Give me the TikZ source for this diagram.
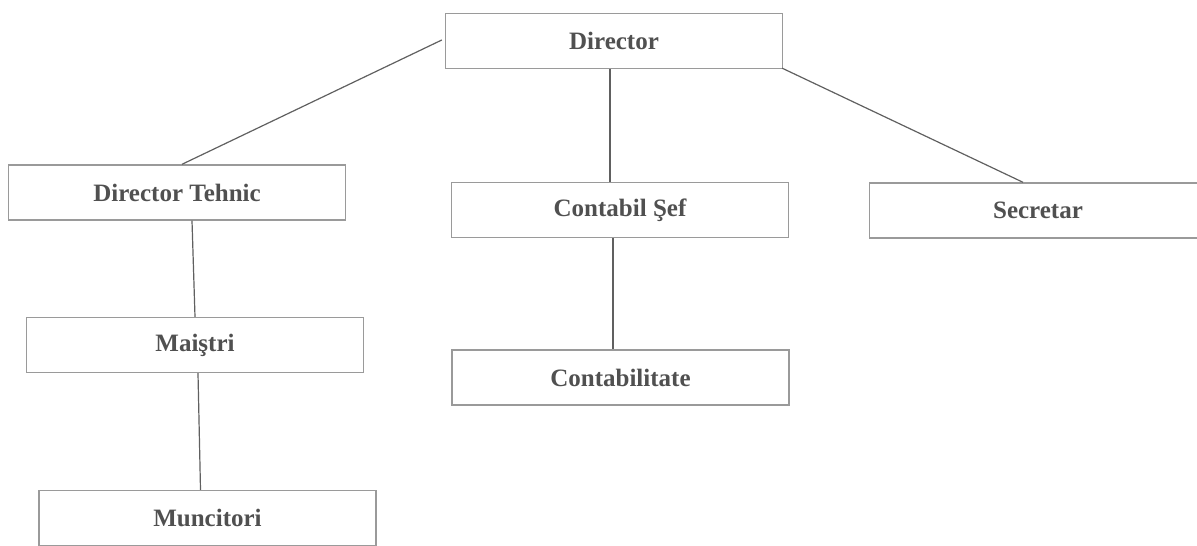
\documentclass[tikz,border=0pt]{standalone}
\usepackage{fontspec}
\setmainfont{Liberation Serif}
\definecolor{boxline}{HTML}{9A9A9A}
\definecolor{conn}{HTML}{606060}
\definecolor{txt}{HTML}{505050}
\begin{document}
\begin{tikzpicture}[x=1pt,y=1pt,
  orgbox/.style={draw=boxline, line width=1.4pt, rectangle, minimum width=337pt, minimum height=55pt, inner sep=0pt, text=txt, font=\fontsize{25}{28}\selectfont\bfseries},
  link/.style={draw=conn, line width=1.2pt}]
\useasboundingbox[fill=white] (0,0) rectangle (1197,-546);
\node[orgbox] (d)   at (614,-41)    {Director};
\node[orgbox] (dt)  at (177,-192.5) {Director Tehnic};
\node[orgbox] (cs)  at (620,-210)   {Contabil Şef};
\node[orgbox] (sec) at (1038,-210.5){Secretar};
\node[orgbox] (m)   at (195,-345)   {Maiştri};
\node[orgbox] (c)   at (620.5,-377.5){Contabilitate};
\node[orgbox] (mu)  at (207.5,-518) {Muncitori};
\draw[link] ([xshift=-3pt,yshift=1pt]d.west) -- ([xshift=5pt]dt.north);
\draw[link] ([xshift=-1pt,yshift=1pt]d.south east) -- ([xshift=-15pt]sec.north);
\draw[link] ([xshift=-4pt]d.south) -- ([xshift=-10pt]cs.north);
\draw[link] ([xshift=-7pt]cs.south) -- ([xshift=-7pt]cs.south |- c.north);
\draw[link] ([xshift=15pt]dt.south) -- (m.north);
\draw[link] ([xshift=3pt]m.south) -- ([xshift=-7pt]mu.north);
\end{tikzpicture}
\end{document}
